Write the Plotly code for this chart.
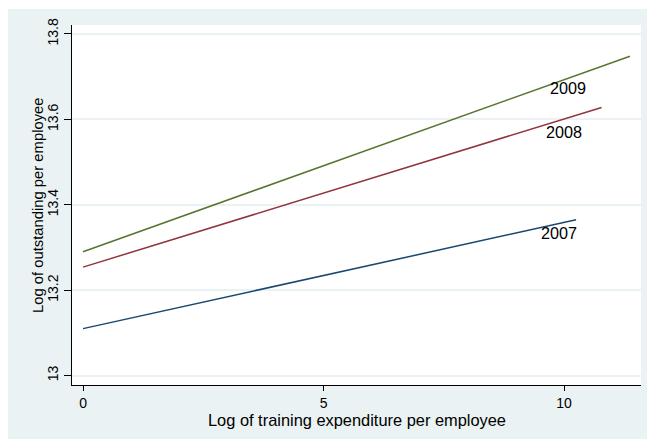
import plotly.graph_objects as go

years = ["2007", "2008", "2009"]
x_start = [0, 0, 0]
x_end = [10.25, 10.78, 11.37]
y_start = [13.110, 13.254, 13.290]
y_end = [13.365, 13.628, 13.748]
colors = ["#1A476F", "#90353B", "#55752F"]
label_x = [9.9, 10.0, 10.08]
label_y = [13.334, 13.570, 13.673]

y_ticks = [13, 13.2, 13.4, 13.6, 13.8]
y_tick_text = ["13", "13.2", "13.4", "13.6", "13.8"]
x_ticks = [0, 5, 10]

x_title = "Log of training expenditure per employee"
y_title = "Log of outstanding per employee"

BG = "#EAF2F3"
FONT = "Liberation Sans, Arial, sans-serif"

L, R, T, B = 72, 6, 25, 54
W, H = 647, 439
pw, ph = W - L - R, H - T - B

fig = go.Figure()
for i, yr in enumerate(years):
    fig.add_trace(go.Scatter(
        x=[x_start[i], x_end[i]], y=[y_start[i], y_end[i]],
        mode="lines", line=dict(color=colors[i], width=1.5),
        showlegend=False, hoverinfo="skip"))
    fig.add_annotation(x=label_x[i], y=label_y[i], text=yr, showarrow=False,
                       font=dict(family=FONT, size=16.2, color="black"))

# axis titles
fig.add_annotation(xref="paper", yref="paper", x=0.5, y=-(420 - (H - B)) / ph,
                   text=x_title, showarrow=False, xanchor="center", yanchor="middle",
                   font=dict(family=FONT, size=16.4, color="black"))
fig.add_annotation(xref="paper", yref="paper", x=-(L - 38) / pw, y=0.5,
                   text=y_title, showarrow=False, textangle=-90,
                   xanchor="center", yanchor="middle",
                   font=dict(family=FONT, size=14.8, color="black"))

fig.update_layout(
    width=W, height=H,
    margin=dict(l=L, r=R, t=T, b=B, autoexpand=False),
    paper_bgcolor=BG, plot_bgcolor="white",
    font=dict(family=FONT, size=14, color="black"),
    xaxis=dict(range=[-0.229, 11.6], tickvals=x_ticks, showgrid=False, zeroline=False,
               showline=True, linecolor="black", linewidth=1,
               ticks="outside", ticklen=5, tickcolor="black",
               tickfont=dict(family=FONT, size=14, color="black")),
    yaxis=dict(range=[12.978, 13.821], tickvals=y_ticks, ticktext=y_tick_text,
               tickangle=-90, showgrid=True, gridcolor=BG, gridwidth=1.5, zeroline=False,
               showline=True, linecolor="black", linewidth=1,
               ticks="outside", ticklen=7, tickcolor="black",
               tickfont=dict(family=FONT, size=14, color="black")),
)

# white outer border (top and left) as in the reference
fig.add_shape(type="rect", xref="paper", yref="paper", x0=-L / pw - 0.01, x1=1 + R / pw + 0.01,
              y0=1 + (T - 9) / ph, y1=1 + T / ph + 0.01, fillcolor="white", line_width=0, layer="below")
fig.add_shape(type="rect", xref="paper", yref="paper", x0=-L / pw - 0.01, x1=-(L - 8) / pw,
              y0=-B / ph - 0.01, y1=1 + T / ph + 0.01, fillcolor="white", line_width=0, layer="below")

fig.write_html("out.html")
